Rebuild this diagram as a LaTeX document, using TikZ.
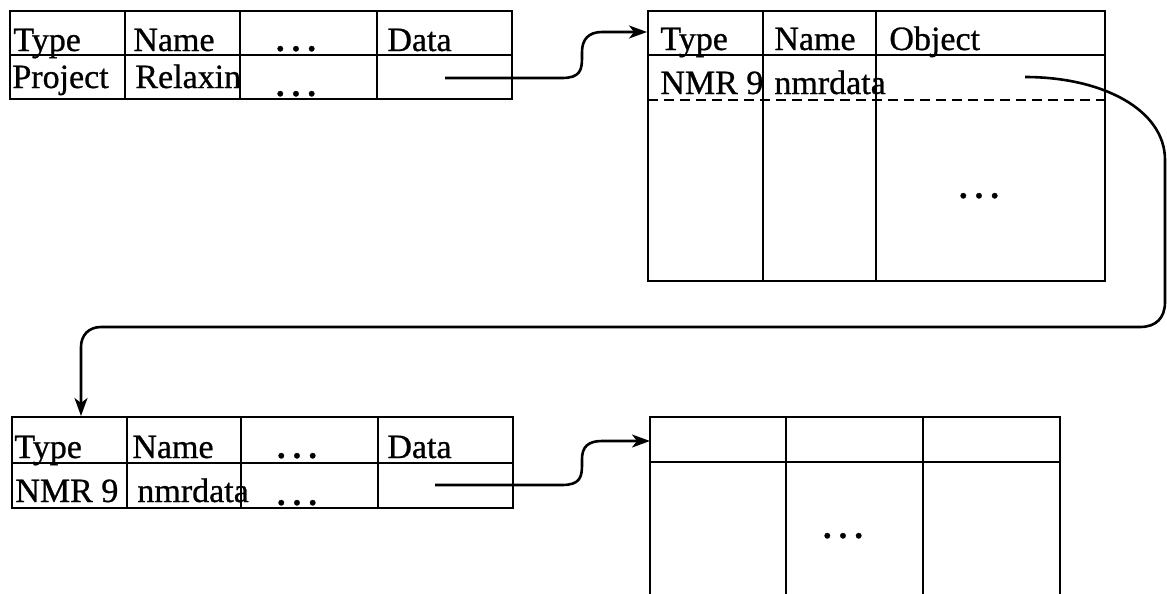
\documentclass[tikz,border=0pt]{standalone}
\usepackage{fontspec}
\setmainfont[FakeBold=0.8]{Liberation Serif}
\usetikzlibrary{arrows.meta}
\newcommand{\spdots}{.\kern3.6pt.\kern3.6pt.}
\begin{document}
\begin{tikzpicture}[x=0.5pt,y=-0.5pt,
  grid/.style={line width=1.4pt, line cap=rect},
  sepline/.style={line width=1.4pt, dash pattern=on 5pt off 3pt},
  cell/.style={anchor=base west, inner sep=0pt, font=\fontsize{17}{19}\selectfont},
  dotcell/.style={anchor=base, inner sep=0pt, font=\fontsize{17}{19}\selectfont\bfseries},
  link/.style={line width=1.3pt, -{Stealth[length=9pt,width=6.5pt,inset=2.5pt]}}]
\useasboundingbox (0,0) rectangle (1167,594);

% ---- table 1 (top left)
\draw[grid] (10,11) rectangle (512,99);
\draw[grid] (10,55) -- (512,55);
\foreach \x in {125,240,377} \draw[grid] (\x,11) -- (\x,99);
\node[cell] (t1type) at (13,51) {Type};
\node[cell] (t1name) at (133,51) {Name};
\node[dotcell] (t1dots) at (296,51) {\spdots};
\node[cell] (t1data) at (387,51) {Data};
\node[cell] (t1proj) at (12,88) {Project};
\node[cell] (t1relax) at (135,88) {Relaxin};
\node[dotcell] (t1dots2) at (296,96) {\spdots};

% ---- table 2 (top right)
\draw[grid] (648,11) rectangle (1105,281);
\draw[grid] (648,55) -- (1105,55);
\draw[sepline] (648,100) -- (1105,100);
\foreach \x in {763,876} \draw[grid] (\x,11) -- (\x,281);
\node[cell] (t2type) at (660,50) {Type};
\node[cell] (t2name) at (774,50) {Name};
\node[cell] (t2obj) at (889,50) {Object};
\node[cell] (t2nmr) at (660,94) {NMR 9};
\node[cell] (t2nmrd) at (774,94) {nmrdata};
\node[dotcell] (t2dots) at (979,198) {\spdots};

% ---- table 3 (bottom left)
\draw[grid] (12,417) rectangle (513,508);
\draw[grid] (12,463) -- (513,463);
\foreach \x in {127,241,378} \draw[grid] (\x,417) -- (\x,508);
\node[cell] (t3type) at (14,458) {Type};
\node[cell] (t3name) at (132,458) {Name};
\node[dotcell] (t3dots) at (297,458) {\spdots};
\node[cell] (t3data) at (387,458) {Data};
\node[cell] (t3nmr) at (15,502) {NMR 9};
\node[cell] (t3nmrd) at (137,502) {nmrdata};
\node[dotcell] (t3dots2) at (297,505) {\spdots};

% ---- table 4 (bottom right, open at bottom)
\draw[grid] (650,417) -- (1060,417);
\draw[grid] (650,462) -- (1060,462);
\foreach \x in {650,786,923,1060} \draw[grid] (\x,417) -- (\x,594);
\node[dotcell] (t4dots) at (843,538) {\spdots};

% ---- connectors
\coordinate (s1) at (445,78);
\coordinate (e1) at (647,32);
\draw[link] (s1) -- (562,78) .. controls (580,78) and (582,70) .. (582,58)
  -- (582,52) .. controls (582,40) and (588,32) .. (602,32) -- (e1);

\coordinate (s2) at (1025,77);
\coordinate (e2) at (81,416);
\draw[link] (s2) .. controls (1103,77) and (1165,110) .. (1165,160)
  -- (1165,302) .. controls (1165,318) and (1156,327) .. (1140,327)
  -- (101,327) .. controls (89,327) and (81,335) .. (81,347) -- (e2);

\coordinate (s3) at (435,485);
\coordinate (e3) at (650,441);
\draw[link] (s3) -- (562,485) .. controls (580,485) and (582,477) .. (582,465)
  -- (582,459) .. controls (582,447) and (588,441) .. (602,441) -- (e3);
\end{tikzpicture}
\end{document}
